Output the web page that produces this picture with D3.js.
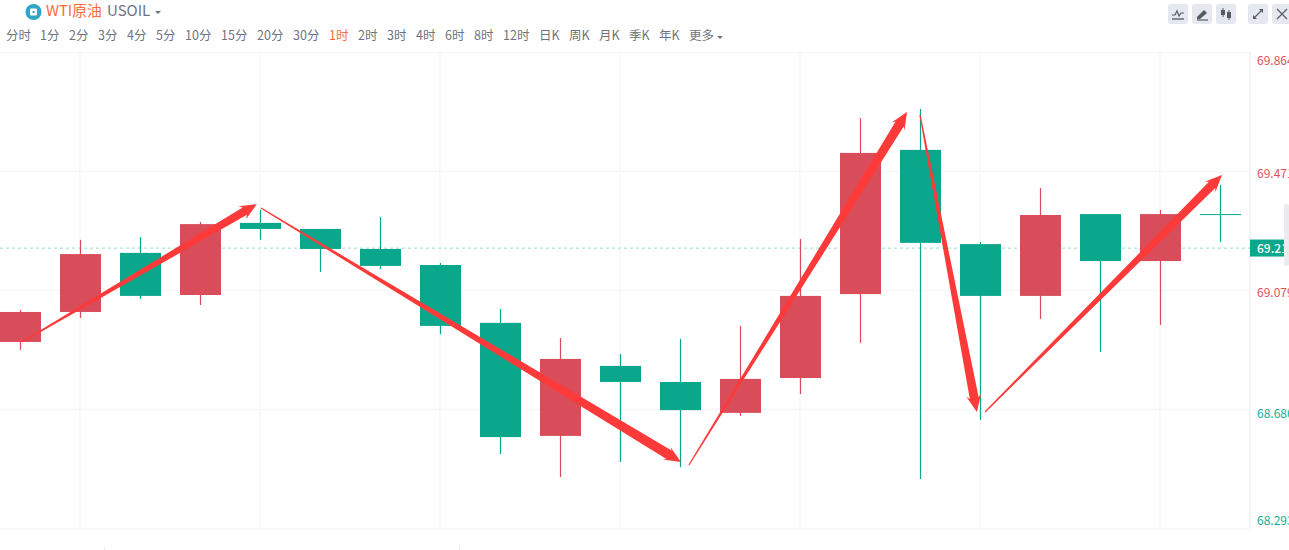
<!DOCTYPE html>
<html><head><meta charset="utf-8">
<script src="https://cdn.jsdelivr.net/npm/d3@7/dist/d3.min.js"></script>
<style>html,body{margin:0;padding:0;background:#fff;overflow:hidden}svg{display:block}text{font-family:"Noto Sans CJK SC","Noto Sans",sans-serif}</style>
</head><body><svg id="c" width="1289" height="550"></svg>
<script>
const periodLabels=["分时","1分","2分","3分","4分","5分","10分","15分","20分","30分","1时","2时","3时","4时","6时","8时","12时","日K","周K","月K","季K","年K","更多"];
const periodX=[6,40,69,98,127,156,185,221,257,293,329,358,387,416,445,474,503,539,569,599,629,659,689];
const opens=[68.907,69.006,69.201,69.062,69.300,69.280,69.214,69.161,68.970,68.597,68.828,68.775,68.673,68.788,69.065,69.541,69.230,69.059,69.329,69.174,69.329];
const closes=[69.006,69.197,69.059,69.296,69.280,69.214,69.158,68.960,68.593,68.851,68.775,68.682,68.785,69.059,69.531,69.234,69.059,69.326,69.174,69.329,69.327];
const highs=[69.013,69.244,69.253,69.303,69.343,69.280,69.319,69.168,69.016,68.920,68.867,68.917,68.960,69.247,69.646,69.676,69.237,69.415,69.329,69.343,69.425];
const lows=[68.880,68.986,69.049,69.029,69.244,69.138,69.148,68.933,68.537,68.461,68.511,68.494,68.663,68.735,68.904,68.455,68.650,68.983,68.874,68.963,69.237];
const yTicks=[69.864,69.471,69.079,68.686,68.293];
const yTickText=["69.864","69.471","69.079","68.686","68.293"];
const lastPrice=69.217;
const gridCandles=[1,4,7,10,13,16,19];
const arrowFromIdx=[0.025,4.008,11.14,14.992,16.075];
const arrowFromPrice=[68.907,69.349,68.501,69.656,68.676];
const arrowToIdx=[3.94,11.008,14.775,15.94,20.025];
const arrowToPrice=[69.362,68.511,69.666,68.676,69.458];
const arrowSize=[8.5,10,9.5,9,9];
const iconX=[1178,1202,1226,1258,1282];
const bottomMarks=[104,459];

const svg=d3.select("#c");
const x=d3.scaleLinear().domain([0,20]).range([20.5,1220.5]);
const y=d3.scaleLinear().domain([68.293,69.864]).range([528,52]);
const chartR=1250;
const RED="#d94c5a",GRN="#0aa78d",ARW="#fd3a3a",GRID="#f6f6f8",ORANGE="#ff6a3c",GREY="#6f7380";
const labelDy=[12.5,6.8,7.6,8.6,-2.8];

// grid
const g=svg.append("g");
g.selectAll(".h").data(yTicks).join("line").attr("x1",0).attr("x2",chartR)
 .attr("y1",d=>Math.round(y(d))+.5).attr("y2",d=>Math.round(y(d))+.5).attr("stroke",GRID).attr("stroke-width",1.4);
g.selectAll(".v").data(gridCandles).join("line").attr("x1",d=>x(d)-.5).attr("x2",d=>x(d)-.5)
 .attr("y1",52).attr("y2",528).attr("stroke",GRID).attr("stroke-width",1.4);
g.append("line").attr("x1",chartR).attr("x2",chartR).attr("y1",52).attr("y2",528).attr("stroke","#f0f0f3").attr("stroke-width",1.4);
g.selectAll(".m").data(bottomMarks).join("line").attr("x1",d=>d+.5).attr("x2",d=>d+.5).attr("y1",547).attr("y2",550).attr("stroke","#e8e8ec");

// last price line
svg.append("line").attr("x1",0).attr("x2",chartR).attr("y1",y(lastPrice)).attr("y2",y(lastPrice))
 .attr("stroke","#aee3d8").attr("stroke-width",1.2).attr("stroke-dasharray","3 3");

// candles
const idx=d3.range(opens.length);
const col=i=>closes[i]>=opens[i]?RED:GRN;
const cg=svg.append("g");
cg.selectAll(".w").data(idx).join("line").attr("x1",x).attr("x2",x)
 .attr("y1",i=>y(highs[i])).attr("y2",i=>y(lows[i])).attr("stroke",col).attr("stroke-width",1.2);
cg.selectAll(".b").data(idx).join("rect").attr("x",i=>x(i)-20.5).attr("width",41)
 .attr("y",i=>Math.min(y(opens[i]),y(closes[i])))
 .attr("height",i=>Math.max(1,Math.abs(y(opens[i])-y(closes[i])))).attr("fill",col);

// axis labels
svg.selectAll(".yl").data(yTicks).join("text").attr("x",1257)
 .attr("y",(d,i)=>y(d)+labelDy[i])
 .attr("font-size",12).attr("fill",(d,i)=>i<3?"#e04f5f":"#0fb095").text((d,i)=>yTickText[i]);
svg.append("rect").attr("x",1250).attr("y",y(lastPrice)-8.5).attr("width",39).attr("height",17).attr("fill",GRN);
svg.append("text").attr("x",1257).attr("y",y(lastPrice)+5).attr("font-size",12).attr("font-weight",500).attr("fill","#fff").text(lastPrice.toFixed(3));

// hand-drawn arrows
function arrow(x0,y0,x1,y1,w){
 const L=Math.hypot(x1-x0,y1-y0),ux=(x1-x0)/L,uy=(y1-y0)/L,nx=-uy,ny=ux;
 const hl=17,hw=7.5,nl=14;
 const P=(a,b)=>[x0+ux*a+nx*b,y0+uy*a+ny*b];
 return [P(0,.6),P(L-nl,w/2),P(L-hl,hw),P(L,0),P(L-hl,-hw),P(L-nl,-w/2),P(0,-.6)];
}
svg.selectAll(".a").data(arrowFromIdx.map((_,i)=>i)).join("polygon")
 .attr("fill",ARW)
 .attr("points",i=>arrow(x(arrowFromIdx[i]),y(arrowFromPrice[i]),x(arrowToIdx[i]),y(arrowToPrice[i]),arrowSize[i]).join(" "));

// header
svg.append("circle").attr("cx",33.5).attr("cy",12).attr("r",8).attr("fill","#2ea6c6");
svg.append("rect").attr("x",30).attr("y",8.5).attr("width",7).attr("height",7).attr("rx",1).attr("fill","#fff");
svg.append("rect").attr("x",32.5).attr("y",11).attr("width",2).attr("height",2).attr("fill","#2ea6c6");
svg.append("text").attr("x",46).attr("y",15.5).attr("font-size",14.8).attr("fill",ORANGE).text("WTI原油");
svg.append("text").attr("x",107).attr("y",15.5).attr("font-size",15).attr("fill",GREY).text("USOIL");
svg.append("path").attr("d",d3.line()([[155,11],[161,11],[158,14]])+"Z").attr("fill",GREY);
svg.selectAll(".p").data(periodLabels).join("text").attr("x",(d,i)=>periodX[i]).attr("y",40)
 .attr("font-size",12.5).attr("fill",d=>d==="1时"?ORANGE:GREY).text(d=>d);
svg.append("path").attr("d",d3.line()([[717,36],[723,36],[720,39]])+"Z").attr("fill",GREY);

// toolbar buttons
const ig=svg.selectAll(".i").data(iconX).join("g").attr("transform",d=>`translate(${d},14)`);
ig.append("rect").attr("x",-10).attr("y",-10).attr("width",20).attr("height",20).attr("rx",3).attr("fill","#e6e8ef");
const ic="#555a66";
const ico=ig.filter((d,i)=>i===0);
ico.append("path").attr("d","M-6 1H-3L-1-3 1 2 3-1H6").attr("fill","none").attr("stroke",ic).attr("stroke-width",1.2);
ico.append("path").attr("d","M-6 5H6").attr("stroke",ic).attr("stroke-width",1.3);
const ip=ig.filter((d,i)=>i===1);
ip.append("path").attr("d","M-5 3L2-4 5-1-2 5H-5Z").attr("fill",ic);
ip.append("path").attr("d","M-5 6H6").attr("stroke",ic).attr("stroke-width",1.2);
const ik=ig.filter((d,i)=>i===2);
ik.append("path").attr("d","M-3-6V3M3-4V6").attr("stroke",ic).attr("stroke-width",1);
ik.append("path").attr("d","M-5-4H-1V1H-5ZM1-2H5V4H1Z").attr("fill",ic);
const ie=ig.filter((d,i)=>i===3);
ie.append("path").attr("d","M-4 4L4-4").attr("stroke",ic).attr("stroke-width",1.1);
ie.append("path").attr("d","M1-5H5V-1ZM-5 1V5H-1Z").attr("fill",ic);
ig.filter((d,i)=>i===4).append("path").attr("d","M-5-5L5 5M5-5L-5 5").attr("stroke",ic).attr("stroke-width",1.2);

// scrollbar remnant at right edge
svg.append("rect").attr("x",1284).attr("y",204).attr("width",5).attr("height",62).attr("fill","#ececee").attr("rx",2);
</script></body></html>
